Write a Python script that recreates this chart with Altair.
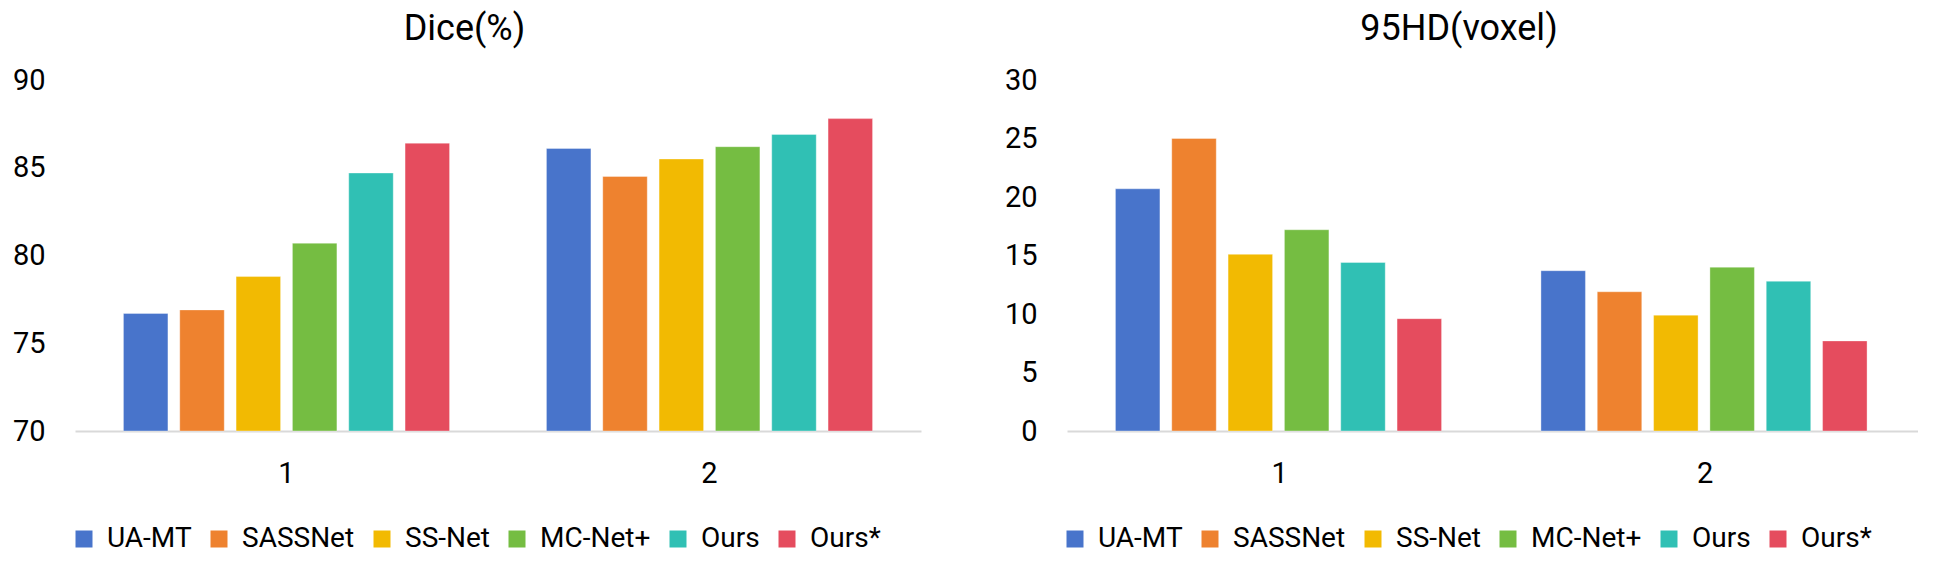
import altair as alt
import pandas as pd

methods = ["UA-MT", "SASSNet", "SS-Net", "MC-Net+", "Ours", "Ours*"]
groups = ["1", "2"]
colors = ["#4874CB", "#EE822F", "#F2BA02", "#75BD42", "#30C0B4", "#E54C5E"]

dice_g1 = [76.7, 76.9, 78.8, 80.7, 84.7, 86.4]
dice_g2 = [86.1, 84.5, 85.5, 86.2, 86.9, 87.8]
hd_g1 = [20.7, 25.0, 15.1, 17.2, 14.4, 9.6]
hd_g2 = [13.7, 11.9, 9.9, 14.0, 12.8, 7.7]

dice_ticks = [70, 75, 80, 85, 90]
hd_ticks = [0, 5, 10, 15, 20, 25, 30]

FONT = "Roboto"


def make_df(g1, g2):
    rows = []
    for g, vals in zip(groups, [g1, g2]):
        for m, v in zip(methods, vals):
            rows.append({"group": g, "method": m, "value": v})
    return pd.DataFrame(rows)


def panel(df, title, ticks, width, height, legend_x):
    ymin, ymax = ticks[0], ticks[-1]
    return alt.Chart(df).mark_bar(stroke="white", strokeOpacity=0.35, strokeWidth=1).encode(
        x=alt.X("group:N", sort=groups,
                scale=alt.Scale(paddingInner=0, paddingOuter=0),
                axis=alt.Axis(title=None, labelAngle=0, ticks=False, domain=True,
                              domainColor="#D9D9D9", domainWidth=2, grid=False,
                              labelFontSize=29, labelPadding=28, labelColor="black",
                              labelFont=FONT)),
        xOffset=alt.XOffset("method:N", sort=methods,
                            scale=alt.Scale(paddingInner=0.21, paddingOuter=0.86)),
        y=alt.Y("value:Q", scale=alt.Scale(domain=[ymin, ymax], zero=False, nice=False),
                axis=alt.Axis(title=None, values=ticks, ticks=False, tickSize=0, domain=False,
                              grid=False, labelFontSize=29, labelPadding=30,
                              labelColor="black", labelFont=FONT,
                              minExtent=67, maxExtent=67)),
        y2=alt.datum(ymin),
        color=alt.Color("method:N", sort=methods,
                        scale=alt.Scale(domain=methods, range=colors),
                        legend=alt.Legend(title=None, orient="none", legendX=legend_x,
                                          legendY=445, direction="horizontal", columns=6,
                                          symbolType="square", symbolSize=289,
                                          symbolStrokeWidth=0, labelFontSize=28,
                                          labelFont=FONT, labelColor="black",
                                          labelOffset=9, columnPadding=13)),
    ).properties(
        width=width, height=height,
        title=alt.TitleParams(title, font=FONT, fontSize=36, fontWeight="normal",
                              color="black", anchor="middle", frame="bounds", offset=18),
    )


left = panel(make_df(dice_g1, dice_g2), "Dice(%)", dice_ticks, 846, 351, -5)
right = panel(make_df(hd_g1, hd_g2), "95HD(voxel)", hd_ticks, 851, 351, -6)

chart = alt.hconcat(left, right, spacing=79).resolve_scale(
    y="independent", color="independent"
).resolve_legend(color="independent").properties(
    padding={"left": 0, "top": 3, "right": 0, "bottom": 0}
).configure_view(stroke=None)

chart.save("out.html", embed_options={"renderer": "svg", "actions": False})
